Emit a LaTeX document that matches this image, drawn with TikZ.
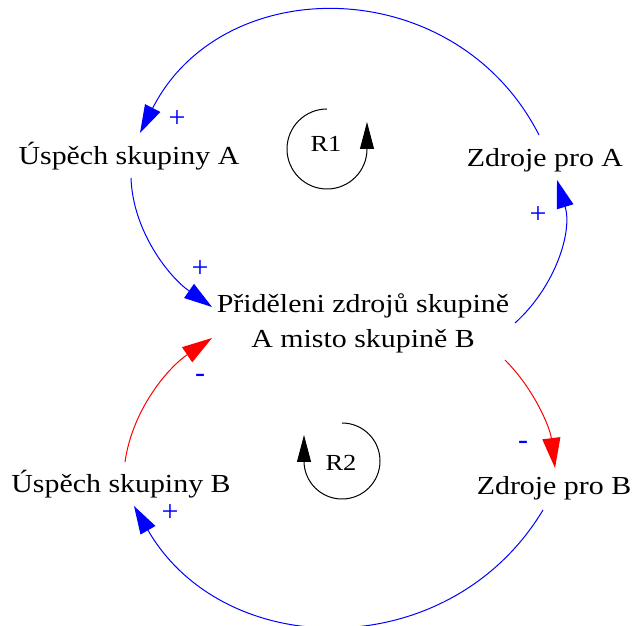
\documentclass[tikz,border=0pt]{standalone}
\usepackage{fontspec}
\setmainfont{Liberation Serif}[FakeStretch=1.15]
\newfontfamily\signfont{Liberation Serif}
\usetikzlibrary{arrows.meta}

\begin{document}
\begin{tikzpicture}[x=1pt, y=1pt,
  var/.style={inner sep=0pt, anchor=base, align=center, font=\fontsize{26}{35}\selectfont},
  loopname/.style={inner sep=0pt, font=\fontsize{23}{23}\selectfont},
  polarity/.style={blue, inner sep=0pt, font=\signfont\fontsize{30}{30}\selectfont},
  poslink/.style={blue, line width=1pt, -{Triangle[length=28pt, width=17pt]}},
  neglink/.style={red, line width=1pt, -{Triangle[length=30pt, width=18pt]}},
  rloop/.style={black, line width=1pt, -{Triangle[length=27pt, width=14pt]}},
]
\path[use as bounding box, fill=white] (0,0) rectangle (637,626);

% variables
\node[var] (uspA) at (129,461) {Úspěch skupiny A};
\node[var] (zdrA) at (545,459) {Zdroje pro A};
\node[var] (prid) at (363,278) {Přiděleni zdrojů skupině\\A misto skupině B};
\node[var] (uspB) at (121,133) {Úspěch skupiny B};
\node[var] (zdrB) at (554,131) {Zdroje pro B};

% loop R1
\node[loopname] (r1) at (326,482) {R1};
\draw[rloop] (327,517) arc[start angle=90, end angle=360, radius=40] -- ++(0,27);

% loop R2
\node[loopname] (r2) at (341,163) {R2};
\draw[rloop] (342,203) arc[start angle=90, end angle=-180, radius=38] -- ++(0,26);

% links
\draw[poslink] ([shift={(-6,32)}]zdrA.base) .. controls +(117:183) and +(63:183) .. ([shift={(11,32)}]uspA.base);
\draw[poslink] ([shift={(2,-13)}]uspA.base) .. controls +(-88:53) and +(145:53) .. ([shift={(-151,41)}]prid.base);
\draw[poslink] ([shift={(152,25)}]prid.base) .. controls +(42:54) and +(-73:54) .. ([shift={(12,-13)}]zdrA.base);
\draw[neglink] ([shift={(142,-12)}]prid.base) .. controls +(-45:41) and +(97:41) .. ([shift={(1,27)}]zdrB.base);
\draw[neglink] ([shift={(4,31)}]uspB.base) .. controls +(82:53) and +(214:53) .. ([shift={(-151,10)}]prid.base);
\draw[poslink] ([shift={(-11,-15)}]zdrB.base) .. controls +(-121:181) and +(-60:181) .. ([shift={(13,-13)}]uspB.base);

% polarities
\node[polarity] (s1) at (177,507) {+};
\node[polarity] (s2) at (200,357) {+};
\node[polarity] (s3) at (538,411) {+};
\node[polarity] (s4) at (523,181) {-};
\node[polarity] (s5) at (200,248) {-};
\node[polarity] (s6) at (170,113) {+};

\end{tikzpicture}
\end{document}
